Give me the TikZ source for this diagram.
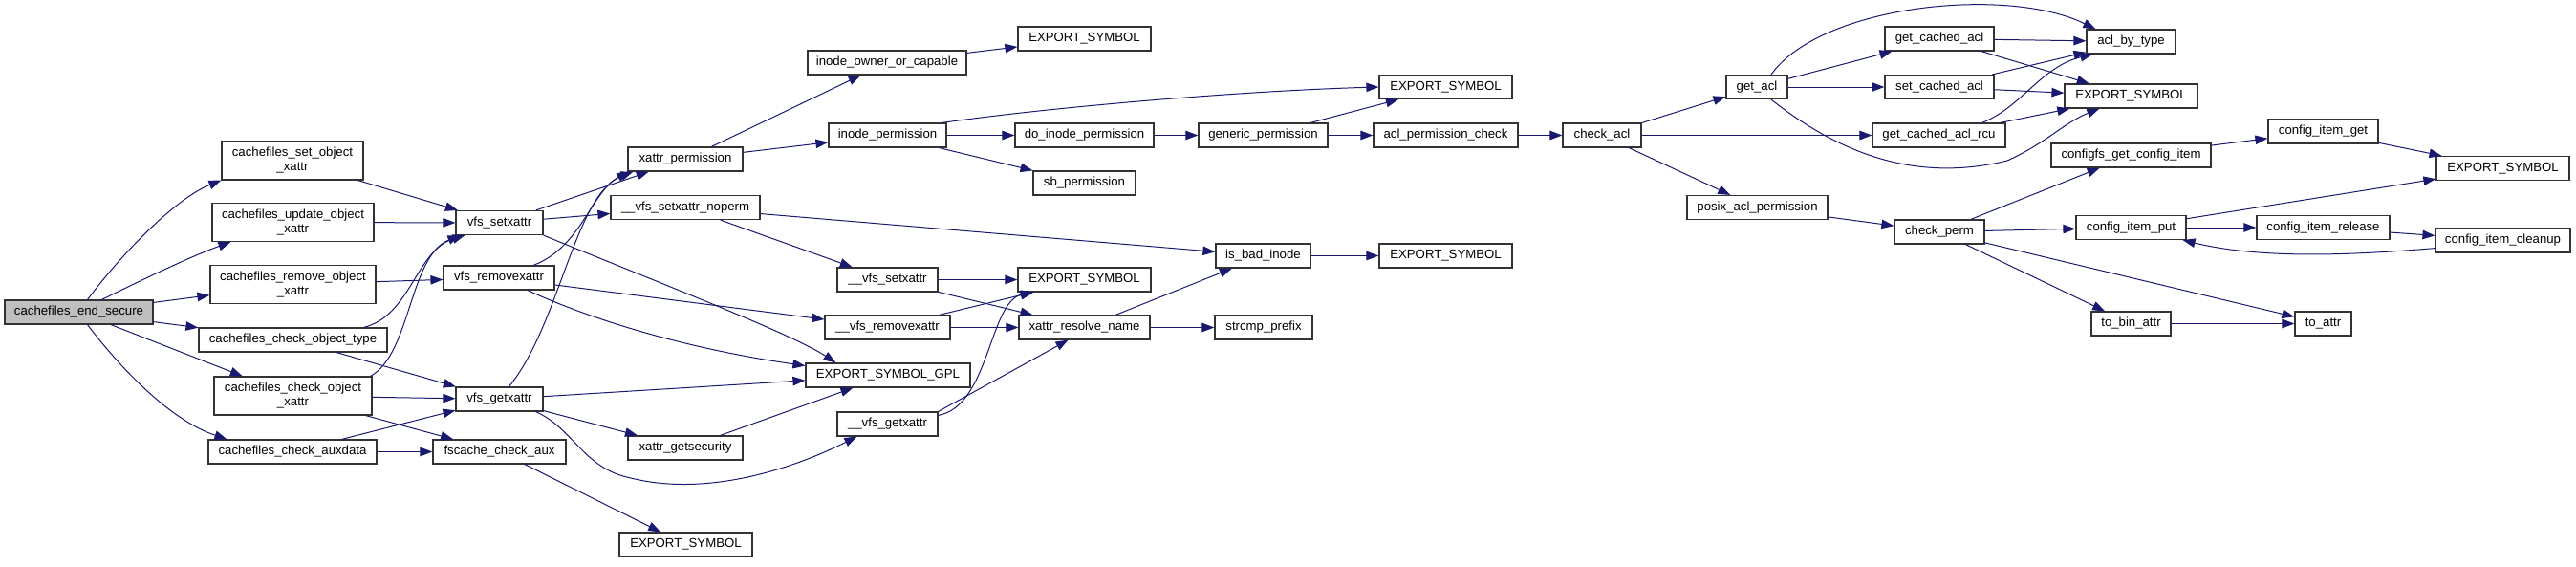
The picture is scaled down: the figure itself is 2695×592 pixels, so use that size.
\documentclass[tikz,border=0pt]{standalone}
\usepackage{fontspec}
\setmainfont{Liberation Sans}
\usetikzlibrary{arrows.meta}
\definecolor{edgeblue}{HTML}{191970}
\definecolor{rootgray}{HTML}{BFBFBF}
\definecolor{boxline}{HTML}{333333}
\begin{document}
\begin{tikzpicture}[x=1pt,y=-1pt,
  box/.style={draw=boxline, line width=1.2pt, fill=white, rectangle, inner sep=0pt,
    minimum height=25pt, font=\fontsize{13.2}{15}\selectfont, align=center},
  box2/.style={box, minimum height=40pt},
  edge/.style={draw=edgeblue, line width=1pt,
    -{Triangle[length=13pt,width=9.5pt]}, edgeblue}]
\useasboundingbox (0,0) rectangle (2695,592);
% column 0
\node[box,minimum width=155pt,fill=rootgray] (root) at (82.5,326.5) {cachefiles\_end\_secure};
% column 1
\node[box2,minimum width=148pt] (setobj) at (306,168) {cachefiles\_set\_object\\\_xattr};
\node[box2,minimum width=169pt] (update) at (306.5,232.5) {cachefiles\_update\_object\\\_xattr};
\node[box2,minimum width=173pt] (remove) at (306.5,297.5) {cachefiles\_remove\_object\\\_xattr};
\node[box,minimum width=197pt] (checktype) at (306.5,355.5) {cachefiles\_check\_object\_type};
\node[box2,minimum width=165pt] (checkxattr) at (306.5,414) {cachefiles\_check\_object\\\_xattr};
\node[box,minimum width=176pt] (auxdata) at (306,472.5) {cachefiles\_check\_auxdata};
% column 2
\node[box,minimum width=91pt] (vsetx) at (522.5,233) {vfs\_setxattr};
\node[box,minimum width=116pt] (vremx) at (522,290.5) {vfs\_removexattr};
\node[box,minimum width=91pt] (vgetx) at (522.5,417.5) {vfs\_getxattr};
\node[box,minimum width=139pt] (fscache) at (522.5,472.5) {fscache\_check\_aux};
% column 3
\node[box,minimum width=120pt] (xperm) at (717,166.5) {xattr\_permission};
\node[box,minimum width=156pt] (noperm) at (717,217) {\_\_vfs\_setxattr\_noperm};
\node[box,minimum width=120pt] (xgetsec) at (717,468.5) {xattr\_getsecurity};
\node[box,minimum width=139pt] (eS1) at (717.5,569.5) {EXPORT\_SYMBOL};
% column 4
\node[box,minimum width=166pt] (iowner) at (928,65.5) {inode\_owner\_or\_capable};
\node[box,minimum width=123pt] (iperm) at (928.5,141.5) {inode\_permission};
\node[box,minimum width=105pt] (vsetx2) at (928.5,292.5) {\_\_vfs\_setxattr};
\node[box,minimum width=131pt] (vremx2) at (928.5,342.5) {\_\_vfs\_removexattr};
\node[box,minimum width=172pt] (gpl) at (929,392.5) {EXPORT\_SYMBOL\_GPL};
\node[box,minimum width=105pt] (vgetx2) at (928.5,443.5) {\_\_vfs\_getxattr};
% column 5
\node[box,minimum width=139pt] (eS2) at (1134.5,40.5) {EXPORT\_SYMBOL};
\node[box,minimum width=145pt] (doip) at (1134.5,141.5) {do\_inode\_permission};
\node[box,minimum width=107pt] (sbp) at (1134.5,191.5) {sb\_permission};
\node[box,minimum width=139pt] (eS3) at (1134.5,292.5) {EXPORT\_SYMBOL};
\node[box,minimum width=137pt] (xres) at (1134.5,342.5) {xattr\_resolve\_name};
% column 6
\node[box,minimum width=135pt] (genp) at (1321.5,141.5) {generic\_permission};
\node[box,minimum width=99pt] (isbad) at (1321.5,267.5) {is\_bad\_inode};
\node[box,minimum width=102pt] (strcmp) at (1322,342.5) {strcmp\_prefix};
% column 7
\node[box,minimum width=139pt] (eS4) at (1512.5,91) {EXPORT\_SYMBOL};
\node[box,minimum width=151pt] (aclpc) at (1512.5,141.5) {acl\_permission\_check};
\node[box,minimum width=139pt] (eS5) at (1512.5,267.5) {EXPORT\_SYMBOL};
% column 8
\node[box,minimum width=82pt] (checkacl) at (1676,141.5) {check\_acl};
% column 9
\node[box,minimum width=64pt] (getacl) at (1838,91) {get\_acl};
\node[box,minimum width=147pt] (posix) at (1838.5,217) {posix\_acl\_permission};
% column 10
\node[box,minimum width=114pt] (gca) at (2029,40.5) {get\_cached\_acl};
\node[box,minimum width=114pt] (sca) at (2029,91) {set\_cached\_acl};
\node[box,minimum width=139pt] (rcu) at (2028.5,141.5) {get\_cached\_acl\_rcu};
\node[box,minimum width=94pt] (cperm) at (2029,242.5) {check\_perm};
% column 11
\node[box,minimum width=93pt] (aclbt) at (2229.5,43.5) {acl\_by\_type};
\node[box,minimum width=139pt] (eS6) at (2229.5,100.5) {EXPORT\_SYMBOL};
\node[box,minimum width=167pt] (cfs) at (2229.5,162.5) {configfs\_get\_config\_item};
\node[box,minimum width=115pt] (cput) at (2229.5,238) {config\_item\_put};
\node[box,minimum width=83pt] (tobin) at (2229.5,338.5) {to\_bin\_attr};
% column 12
\node[box,minimum width=115pt] (cget) at (2430.5,137.5) {config\_item\_get};
\node[box,minimum width=139pt] (crel) at (2430.5,238) {config\_item\_release};
\node[box,minimum width=59pt] (toattr) at (2430.5,338.5) {to\_attr};
% column 13
\node[box,minimum width=139pt] (eS7) at (2618.5,176) {EXPORT\_SYMBOL};
\node[box,minimum width=141pt] (cclean) at (2618.5,251.5) {config\_item\_cleanup};

% edges from root
\draw[edge] ([xshift=9pt]root.north) .. controls (130,262) and (185,207) .. (setobj.south west);
\draw[edge] ([xshift=24pt]root.north) .. controls (150,292) and (200,268) .. ([xshift=20pt]update.south west);
\draw[edge] (root) -- (remove);
\draw[edge] (root) -- (checktype);
\draw[edge] (root) -- (checkxattr);
\draw[edge] ([xshift=9pt]root.south) .. controls (130,390) and (180,440) .. ([xshift=20pt]auxdata.north west);
% column 1 edges
\draw[edge] (setobj) -- (vsetx);
\draw[edge] (update) -- (vsetx);
\draw[edge] (remove) -- (vremx);
\draw[edge] ([xshift=-25pt]checktype.north east) .. controls (430,330) and (435,262) .. ([xshift=10pt]vsetx.south west);
\draw[edge] (checktype) -- (vgetx);
\draw[edge] ([xshift=-2pt]checkxattr.north east) .. controls (430,370) and (428,268) .. ([xshift=5pt]vsetx.south west);
\draw[edge] (checkxattr) -- (vgetx);
\draw[edge] (checkxattr) -- (fscache);
\draw[edge] (auxdata) -- (vgetx);
\draw[edge] (auxdata) -- (fscache);
% column 2 edges
\draw[edge] (vsetx) -- (xperm);
\draw[edge] (vsetx) -- (noperm);
\draw[edge] (vsetx.south east) .. controls (700,300) and (830,350) .. ([xshift=32pt]gpl.north west);
\draw[edge] ([xshift=36pt]vremx.north) .. controls (610,258) and (620,195) .. ([xshift=6pt]xperm.south west);
\draw[edge] (vremx) -- (vremx2);
\draw[edge] ([xshift=30pt]vremx.south) .. controls (620,335) and (720,365) .. ([yshift=10pt]gpl.west);
\draw[edge] ([xshift=10pt]vgetx.north) .. controls (585,340) and (600,210) .. ([xshift=2pt]xperm.south west);
\draw[edge] (vgetx) -- (gpl);
\draw[edge] (vgetx) -- (xgetsec);
\draw[edge] ([xshift=38pt]vgetx.south) .. controls (600,448) and (610,490) .. (660,500) .. controls (740,520) and (830,490) .. ([xshift=21pt]vgetx2.south west);
\draw[edge] (fscache) -- (eS1);
% column 3 edges
\draw[edge] (xgetsec) -- (gpl);
\draw[edge] (xperm) -- (iowner);
\draw[edge] (xperm) -- (iperm);
\draw[edge] (noperm) -- (isbad);
\draw[edge] (noperm) -- (vsetx2);
% column 4 edges
\draw[edge] (iowner) -- (eS2);
\draw[edge] ([xshift=-5pt]iperm.north east) .. controls (1100,112) and (1300,95) .. (eS4.west);
\draw[edge] (iperm) -- (doip);
\draw[edge] (iperm) -- (sbp);
\draw[edge] (vsetx2) -- (eS3);
\draw[edge] (vsetx2) -- (xres);
\draw[edge] (vremx2) -- (eS3);
\draw[edge] (vremx2) -- (xres);
\draw[edge] ([yshift=-4pt]vgetx2.north east) .. controls (1035,425) and (1035,315) .. ([xshift=17pt]eS3.south west);
\draw[edge] (vgetx2.north east) -- ([xshift=-17pt]xres.south);
% column 5+ edges
\draw[edge] (doip) -- (genp);
\draw[edge] (genp) -- (eS4);
\draw[edge] (genp) -- (aclpc);
\draw[edge] (aclpc) -- (checkacl);
\draw[edge] (xres) -- (isbad);
\draw[edge] (xres) -- (strcmp);
\draw[edge] (isbad) -- (eS5);
\draw[edge] (checkacl) -- (getacl);
\draw[edge] (checkacl) -- (rcu);
\draw[edge] (checkacl) -- (posix);
% acl area
\draw[edge] ([xshift=15pt]getacl.north) .. controls (1905,5) and (2100,-15) .. ([xshift=10pt]aclbt.north west);
\draw[edge] (getacl) -- (gca);
\draw[edge] (getacl) -- (sca);
\draw[edge] ([xshift=15pt]getacl.south) .. controls (1930,165) and (2010,190) .. (2100,168) .. controls (2140,150) and (2160,128) .. ([xshift=37pt]eS6.south west);
\draw[edge] (gca) -- (aclbt);
\draw[edge] (gca) -- (eS6);
\draw[edge] (sca) -- (aclbt);
\draw[edge] (sca) -- (eS6);
\draw[edge] ([xshift=-25pt]rcu.north east) .. controls (2115,112) and (2135,70) .. ([xshift=7pt]aclbt.south west);
\draw[edge] (rcu) -- (eS6);
% config area
\draw[edge] (posix) -- (cperm);
\draw[edge] (cperm) -- (cfs);
\draw[edge] (cperm) -- (cput);
\draw[edge] (cperm) -- (toattr);
\draw[edge] (cperm) -- (tobin);
\draw[edge] (cfs) -- (cget);
\draw[edge] (cget) -- (eS7);
\draw[edge] (cput) -- (eS7);
\draw[edge] (cput) -- (crel);
\draw[edge] (crel) -- (cclean);
\draw[edge] ([yshift=5pt]cclean.south west) .. controls (2470,266) and (2370,272) .. ([xshift=-4pt]cput.south east);
\draw[edge] (tobin) -- (toattr);
\end{tikzpicture}
\end{document}
